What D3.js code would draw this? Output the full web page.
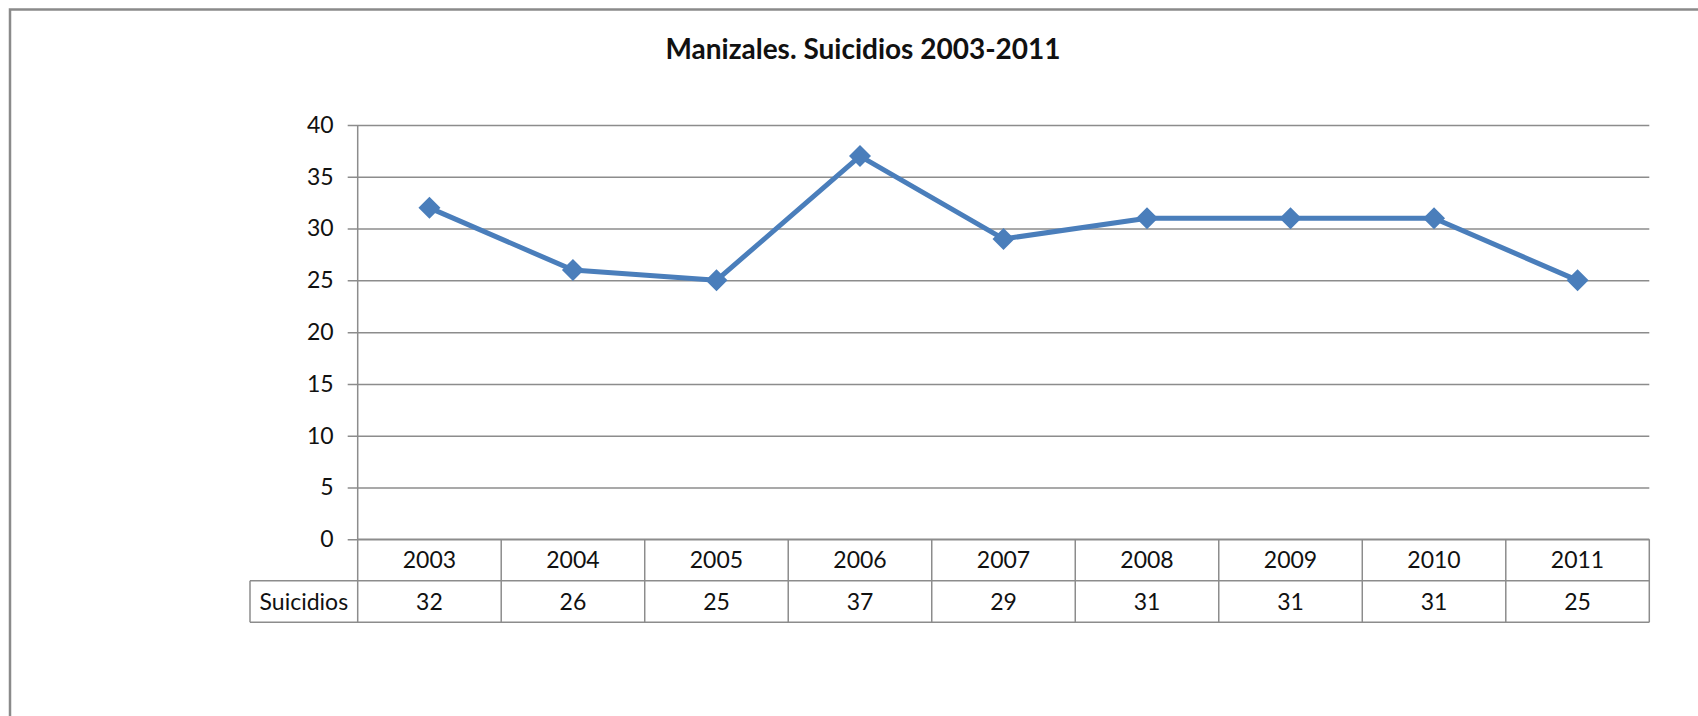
<!DOCTYPE html>
<html>
<head>
<meta charset="utf-8">
<script src="https://cdn.jsdelivr.net/npm/d3@7"></script>
<style>
  body { margin: 0; background: #fff; }
  svg { display: block; }
  text { font-family: Lato, "Open Sans", sans-serif; fill: #111; }
</style>
</head>
<body>
<script>
// data
const years = ['2003', '2004', '2005', '2006', '2007', '2008', '2009', '2010', '2011'];
const suicidios = [32, 26, 25, 37, 29, 31, 31, 31, 25];
const yTicks = [0, 5, 10, 15, 20, 25, 30, 35, 40];
const seriesName = 'Suicidios';
const chartTitle = 'Manizales. Suicidios 2003-2011';

const W = 1698, H = 716;
const plot = {left: 357.7, right: 1649.3, top: 125, bottom: 539.3};
const rowH = 41.5;
const labelLeft = 250;
const gridColor = '#8c8c8c';
const lineColor = '#4a7ebb';
const fs = 23;

const svg = d3.select('body').append('svg')
    .attr('width', W)
    .attr('height', H);

// chart frame (runs off the right and bottom of the picture)
svg.append('rect')
    .attr('x', 10).attr('y', 9.5)
    .attr('width', 1720).attr('height', 760)
    .attr('fill', 'none')
    .attr('stroke', '#8a8a8a')
    .attr('stroke-width', 2.5);

svg.append('text')
    .attr('x', 863).attr('y', 58.5)
    .attr('text-anchor', 'middle')
    .attr('font-weight', 'bold')
    .attr('font-size', 28)
    .text(chartTitle);

const x = d3.scaleBand().domain(years).range([plot.left, plot.right]);
const y = d3.scaleLinear().domain([0, 40]).range([plot.bottom, plot.top]);

// gridlines + ticks
const yAxis = svg.append('g')
    .attr('transform', `translate(${plot.left},0)`)
    .call(d3.axisLeft(y).tickValues(yTicks).tickSize(10).tickPadding(14));
yAxis.select('.domain').remove();
yAxis.selectAll('.tick line')
    .attr('x2', plot.right - plot.left)
    .attr('x1', -10)
    .attr('stroke', gridColor)
    .attr('stroke-width', 1.5);
yAxis.selectAll('.tick text')
    .attr('font-size', fs)
    .attr('font-family', 'Lato, sans-serif')
    .attr('fill', '#111');

// data table under the plot
const tbl = svg.append('g');
const cellLines = [];
// horizontal lines
cellLines.push([plot.left, plot.bottom, plot.right, plot.bottom]);
cellLines.push([labelLeft, plot.bottom + rowH, plot.right, plot.bottom + rowH]);
cellLines.push([labelLeft, plot.bottom + 2 * rowH, plot.right, plot.bottom + 2 * rowH]);
// vertical lines
cellLines.push([labelLeft, plot.bottom + rowH, labelLeft, plot.bottom + 2 * rowH]);
cellLines.push([plot.left, plot.top, plot.left, plot.bottom + 2 * rowH]);
years.forEach(yr => {
    const xr = x(yr) + x.bandwidth();
    cellLines.push([xr, plot.bottom, xr, plot.bottom + 2 * rowH]);
});
tbl.selectAll('line')
    .data(cellLines)
    .enter()
    .append('line')
    .attr('x1', d => d[0]).attr('y1', d => d[1])
    .attr('x2', d => d[2]).attr('y2', d => d[3])
    .attr('stroke', gridColor)
    .attr('stroke-width', 1.5);

tbl.selectAll('.yr')
    .data(years)
    .enter()
    .append('text')
    .attr('class', 'yr')
    .attr('x', d => x(d) + x.bandwidth() / 2)
    .attr('y', plot.bottom + rowH / 2)
    .attr('dy', '0.35em')
    .attr('text-anchor', 'middle')
    .attr('font-size', fs)
    .text(d => d);

tbl.selectAll('.val')
    .data(suicidios)
    .enter()
    .append('text')
    .attr('class', 'val')
    .attr('x', (d, i) => x(years[i]) + x.bandwidth() / 2)
    .attr('y', plot.bottom + rowH * 1.5)
    .attr('dy', '0.35em')
    .attr('text-anchor', 'middle')
    .attr('font-size', fs)
    .text(d => d);

tbl.append('text')
    .attr('x', (labelLeft + plot.left) / 2)
    .attr('y', plot.bottom + rowH * 1.5)
    .attr('dy', '0.35em')
    .attr('text-anchor', 'middle')
    .attr('font-size', fs)
    .text(seriesName);

// the series
const pts = suicidios.map((v, i) => [x(years[i]) + x.bandwidth() / 2, y(v)]);
svg.append('path')
    .attr('d', d3.line()(pts))
    .attr('fill', 'none')
    .attr('stroke', lineColor)
    .attr('stroke-width', 5)
    .attr('stroke-linejoin', 'round');

svg.selectAll('.mark')
    .data(pts)
    .enter()
    .append('path')
    .attr('class', 'mark')
    .attr('transform', d => `translate(${d[0]},${d[1]})`)
    .attr('d', 'M0,-11L11,0L0,11L-11,0Z')
    .attr('fill', lineColor);
</script>
</body>
</html>
